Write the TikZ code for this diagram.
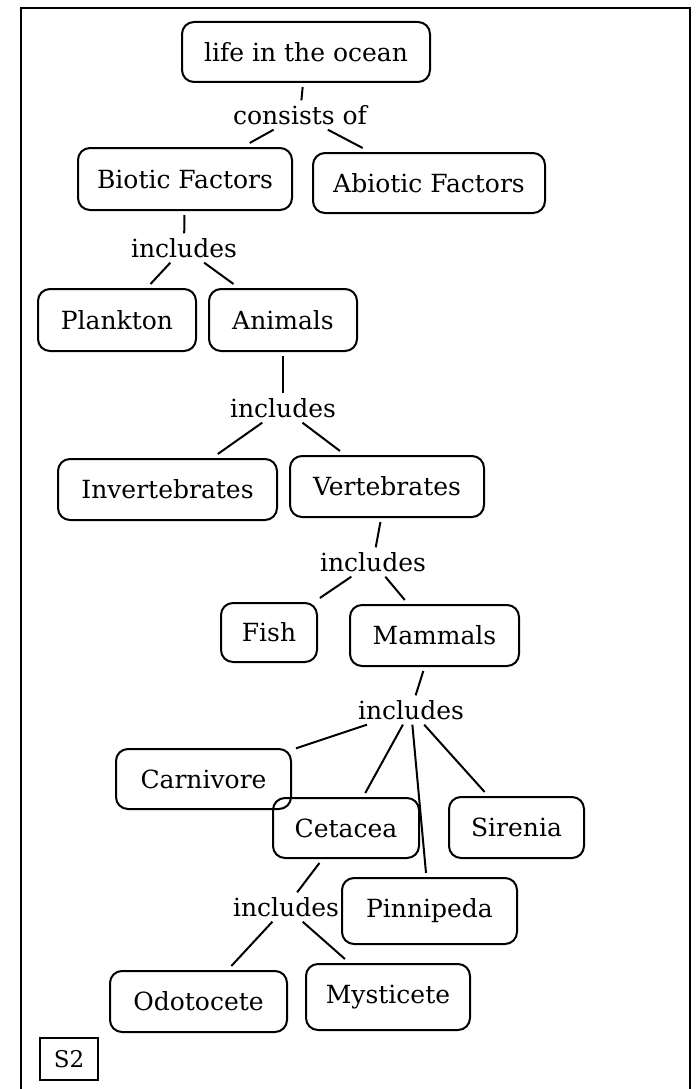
\documentclass[tikz,border=0pt]{standalone}
\usepackage{fontspec}
\setmainfont{DejaVu Serif}
\begin{document}
\begin{tikzpicture}[x=1pt,y=-1pt,
  box/.style={draw, line width=2pt, rounded corners=12pt, inner sep=0pt, outer sep=5pt, font=\fontsize{25}{29}\selectfont},
  lab/.style={inner sep=1pt, outer sep=4pt, font=\fontsize{25}{29}\selectfont},
  conn/.style={line width=2pt},
  tag/.style={draw, line width=1.6pt, inner sep=0pt, font=\fontsize{23}{27}\selectfont}]
\useasboundingbox (0,0) rectangle (700,1089);
\draw[line width=2.2pt] (21,1089) -- (21,8) -- (690,8) -- (690,1089);

\node[box, minimum width=248pt, minimum height=60pt] (life) at (306,52) {life in the ocean};
\node[lab] (cons) at (300,115) {consists of};
\node[box, minimum width=214pt, minimum height=62pt] (biotic) at (185,179) {Biotic Factors};
\node[box, minimum width=232pt, minimum height=60pt] (abiotic) at (429,183) {Abiotic Factors};
\node[lab] (inca) at (184,248) {includes};
\node[box, minimum width=158pt, minimum height=62pt] (plankton) at (117,320) {Plankton};
\node[box, minimum width=148pt, minimum height=62pt] (animals) at (283,320) {Animals};
\node[lab] (incb) at (283,408) {includes};
\node[box, minimum width=219pt, minimum height=61pt] (invert) at (167.5,489.5) {Invertebrates};
\node[box, minimum width=194pt, minimum height=61pt] (vert) at (387,486.5) {Vertebrates};
\node[lab] (incc) at (373,562) {includes};
\node[box, minimum width=96pt, minimum height=59pt] (fish) at (269,632.5) {Fish};
\node[box, minimum width=169pt, minimum height=61pt] (mammals) at (434.5,635.5) {Mammals};
\node[lab] (incd) at (411,710) {includes};
\node[box, minimum width=175pt, minimum height=60pt] (carni) at (203.5,779) {Carnivore};
\node[box, minimum width=146pt, minimum height=60pt] (ceta) at (346,828) {Cetacea};
\node[box, minimum width=135pt, minimum height=61pt] (siren) at (516.5,827.5) {Sirenia};
\node[box, minimum width=175pt, minimum height=66pt] (pinni) at (429.5,911) {Pinnipeda};
\node[lab] (ince) at (286,907) {includes};
\node[box, minimum width=177pt, minimum height=61pt] (odo) at (198.5,1001.5) {Odotocete};
\node[box, minimum width=164pt, minimum height=66pt] (mys) at (388,997) {Mysticete};
\node[tag, minimum width=58pt, minimum height=42pt] (s2) at (69,1059) {S2};

\draw[conn] (life) -- (cons);
\draw[conn] (cons) -- (biotic);
\draw[conn] (cons) -- (abiotic);
\draw[conn] (biotic) -- (inca);
\draw[conn] (inca) -- (plankton);
\draw[conn] (inca) -- (animals);
\draw[conn] (animals) -- (incb);
\draw[conn] (incb) -- (invert);
\draw[conn] (incb) -- (vert);
\draw[conn] (vert) -- (incc);
\draw[conn] (incc) -- (fish);
\draw[conn] (incc) -- (mammals);
\draw[conn] (mammals) -- (incd);
\draw[conn] (incd) -- (carni);
\draw[conn] (incd) -- (ceta);
\draw[conn] (incd) -- (pinni);
\draw[conn] (incd) -- (siren);
\draw[conn] (ceta) -- (ince);
\draw[conn] (ince) -- (odo);
\draw[conn] (ince) -- (mys);
\end{tikzpicture}
\end{document}
